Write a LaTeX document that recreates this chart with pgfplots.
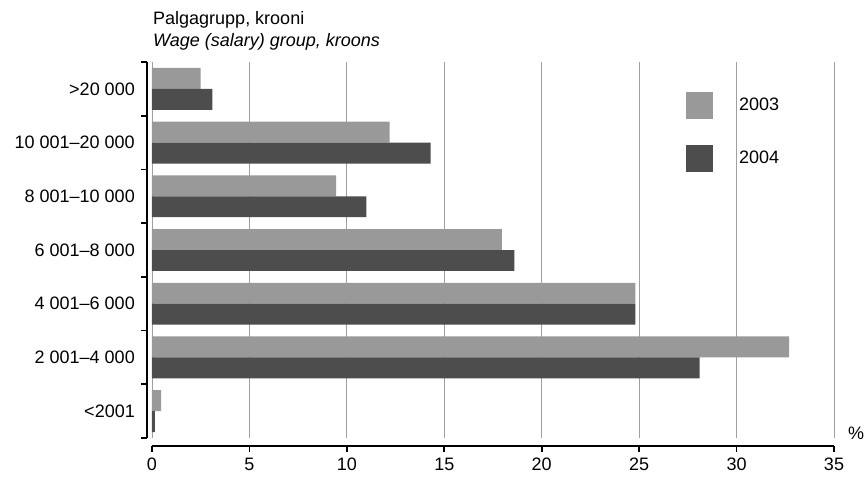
\documentclass[border=0pt]{standalone}
\usepackage{fontspec}
\setmainfont{Liberation Sans}
\usepackage{pgfplots}
\pgfplotsset{compat=1.18}
\definecolor{c2003}{HTML}{999999}
\definecolor{c2004}{HTML}{4D4D4D}
\definecolor{gridc}{HTML}{A0A0A0}
\begin{document}
\fontsize{18}{21}\selectfont
\begin{tikzpicture}
\useasboundingbox (-152pt,-39pt) rectangle (714pt,438pt);
\begin{axis}[
  at={(0,0)}, anchor=south west,
  scale only axis, width=682pt, height=376pt,
  xmin=0, xmax=35, ymin=-0.5, ymax=6.5,
  xbar, bar width=0.39,
  axis x line*=bottom, axis y line*=left,
  axis x line shift=8pt, axis y line shift=5pt,
  axis line style={line width=1.8pt, -},
  xtick={0,5,...,35},
  ytick={0,...,6},
  yticklabels={<2001, 2 001--4 000, 4 001--6 000, 6 001--8 000, 8 001--10 000, 10 001--20 000, >20 000},
  minor ytick={-0.5,0.5,...,6.5},
  tick align=outside,
  major tick length=6pt, minor tick length=6pt,
  xtick style={line width=1.8pt, black},
  ytick style={draw=none},
  minor y tick style={draw=black, line width=1.8pt},
  xmajorgrids, grid style={gridc, line width=0.9pt},
  /pgf/number format/assume math mode=true,
  clip=false,
  legend style={draw=none, fill=none, at={(0.783,0.920)}, anchor=north west,
    inner sep=0pt, outer sep=0pt, row sep=26pt,
    /tikz/every odd column/.append style={column sep=24pt}},
  legend cell align=left,
  legend image code/.code={\fill[#1] (0pt,-13.5pt) rectangle (27pt,13.5pt);},
]
\addplot[fill=c2003, draw=none, bar shift=0.195] coordinates {(0.47,0) (32.7,1) (24.8,2) (17.95,3) (9.45,4) (12.2,5) (2.5,6)};
\addplot[fill=c2004, draw=none, bar shift=-0.195] coordinates {(0.15,0) (28.1,1) (24.8,2) (18.6,3) (11.0,4) (14.3,5) (3.1,6)};
\legend{2003,2004}
\node[anchor=base west, inner sep=0pt] at (rel axis cs:0,1) [xshift=1pt, yshift=37.5pt] {Palgagrupp, krooni};
\node[anchor=base west, inner sep=0pt] at (rel axis cs:0,1) [xshift=1pt, yshift=16pt] {\itshape Wage (salary) group, kroons};
\node[inner sep=0pt] at (rel axis cs:1,0) [xshift=22pt, yshift=5pt] {\%};
\end{axis}
\end{tikzpicture}
\end{document}
